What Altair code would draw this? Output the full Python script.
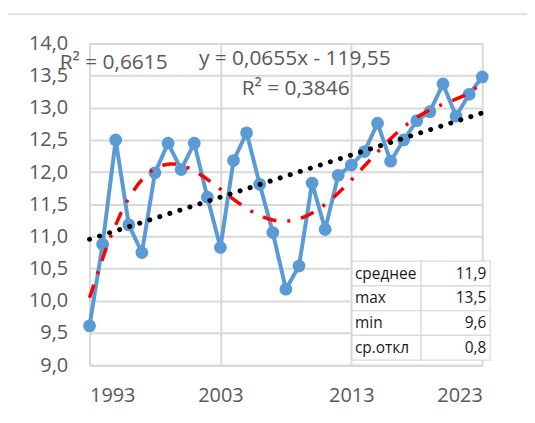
import altair as alt
import pandas as pd

years = list(range(1993, 2024))
temps = [9.61, 10.88, 12.50, 11.18, 10.75, 11.99, 12.45, 12.04, 12.45, 11.61,
         10.83, 12.18, 12.61, 11.81, 11.06, 10.18, 10.54, 11.83, 11.11, 11.95,
         12.11, 12.32, 12.76, 12.17, 12.50, 12.80, 12.94, 13.37, 12.87, 13.21, 13.48]
y_ticks = [9.0, 9.5, 10.0, 10.5, 11.0, 11.5, 12.0, 12.5, 13.0, 13.5, 14.0]
x_ticks = [1993, 2003, 2013, 2023]
stat_labels = ["среднее", "max", "min", "ср.откл"]
stat_values = ["11,9", "13,5", "9,6", "0,8"]
r2_poly = "R² = 0,6615"
eq_lin = "y = 0,0655x - 119,55"
r2_lin = "R² = 0,3846"

BLUE = "#5B9BD5"
GRID = "#d9d9d9"
TXT = "#595959"
FONT = "Open Sans"

df = pd.DataFrame({"year": years, "temp": temps})

x = alt.X("year:Q", scale=alt.Scale(domain=[1993, 2023], nice=False, zero=False),
          axis=alt.Axis(values=x_ticks, format="d", title=None, labelPadding=21))
y = alt.Y("temp:Q", scale=alt.Scale(domain=[9, 14], nice=False, zero=False),
          axis=alt.Axis(values=y_ticks, title=None, labelPadding=22,
                        labelExpr="replace(format(datum.value, '.1f'), '.', ',')"))

base = alt.Chart(df)
line = base.mark_line(color=BLUE, strokeWidth=4).encode(x=x, y=y)
pts = base.mark_circle(color=BLUE, size=165, opacity=1).encode(x=x, y=y)
poly = base.transform_regression("year", "temp", method="poly", order=6).mark_line(
    color="#FF0000", strokeWidth=3.5, strokeDash=[14, 11, 3, 11]).encode(x=x, y=y)
lin = base.transform_regression("year", "temp").mark_line(
    color="black", strokeWidth=5, strokeDash=[0.1, 10.5], strokeCap="round").encode(x=x, y=y)


def note(text, px, py):
    return alt.Chart(pd.DataFrame({"t": [text]})).mark_text(
        align="left", baseline="middle", font=FONT, fontSize=21, color=TXT
    ).encode(text="t:N", x=alt.value(px), y=alt.value(py))


one = pd.DataFrame({"k": [0]})
border_top = alt.Chart(one).mark_rule(color=GRID, strokeWidth=1.5).encode(
    x=alt.value(-83), x2=alt.value(445), y=alt.value(-29.5))
border_left = alt.Chart(one).mark_rule(color=GRID, strokeWidth=1.5).encode(
    x=alt.value(-83), y=alt.value(-29.5), y2=alt.value(381))

main = alt.layer(border_top, border_left, line, pts, poly, lin,
                 note(r2_poly, -30, 19.5), note(eq_lin, 110, 15.5), note(r2_lin, 153, 45.5))

# table
cells = pd.DataFrame({
    "row": stat_labels + stat_labels,
    "col": ["a"] * len(stat_labels) + ["b"] * len(stat_labels),
})
tbl = pd.DataFrame({"row": stat_labels, "value": stat_values})
ty = alt.Y("row:N", sort=stat_labels,
           scale=alt.Scale(range=[219, 318.5], paddingInner=0, paddingOuter=0), axis=None)
tx = alt.X("col:N", sort=["a", "b"],
           scale=alt.Scale(range=[264, 403], paddingInner=0, paddingOuter=0), axis=None)
rects = alt.Chart(cells).mark_rect(fill="white", stroke=GRID, strokeWidth=1.2).encode(x=tx, y=ty)
lab = alt.Chart(tbl).mark_text(align="left", baseline="middle", font=FONT, fontSize=15.5,
                               color="#1a1a1a").encode(text="row:N", x=alt.value(267), y=ty)
val = alt.Chart(tbl).mark_text(align="right", baseline="middle", font=FONT, fontSize=15.5,
                               color="#1a1a1a").encode(text="value:N", x=alt.value(399), y=ty)
table = alt.layer(rects, lab, val)

chart = alt.layer(main, table).resolve_scale(x="independent", y="independent").properties(
    width=395, height=323.5,
    padding={"left": 82, "top": 34.5, "right": 45, "bottom": 50},
    autosize=alt.AutoSizeParams(type="none"),
).configure_view(stroke=None).configure_axis(
    grid=True, gridColor=GRID, gridWidth=2, domainColor=GRID, domainWidth=2,
    ticks=False, labelFont=FONT, labelFontSize=20, labelColor=TXT,
)

chart.save("out.html", embed_options={"renderer": "svg", "actions": False})
